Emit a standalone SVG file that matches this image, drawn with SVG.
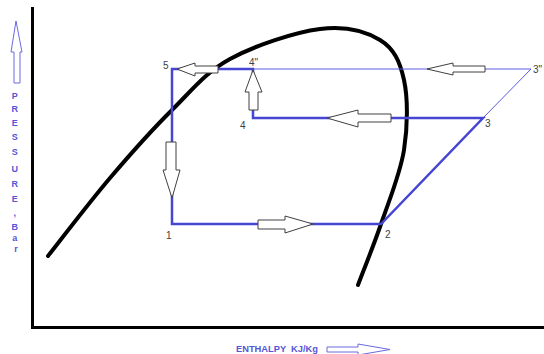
<svg xmlns="http://www.w3.org/2000/svg" width="544" height="354" viewBox="0 0 544 354">
<style>
.ax{stroke:#000;stroke-width:3;fill:none}
.sat{stroke:#000;stroke-width:4;fill:none;stroke-linecap:round;stroke-linejoin:round}
.cyc{stroke:#4646d2;stroke-width:2.5;fill:none;stroke-linecap:square}
.thin{stroke:#5a5ae0;stroke-width:1;fill:none}
.harrow{fill:#fff;stroke:#404040;stroke-width:1}
.lbl{font-family:"Liberation Sans",Arial,sans-serif;font-size:10px;fill:#404040}
.axl{font-family:"Liberation Sans",Arial,sans-serif;font-size:9px;font-weight:bold;fill:#5555d5}
.barrow{fill:#fff;stroke:#6a6ae0;stroke-width:1}
</style>
<rect width="544" height="354" fill="#fff"/>
<g id="axes">
<line class="ax" x1="32.5" y1="7" x2="32.5" y2="329"/>
<line class="ax" x1="31" y1="327.5" x2="544" y2="327.5"/>
</g>
<g id="saturation-curve">
<path class="sat" d="M48,256 C58.3,243 89.3,202.3 110,178 C130.7,153.7 152,129.8 172,110 C192,90.2 205.3,72.5 230,59 C254.7,45.5 295,32.2 320,29 C345,25.8 366,31.5 380,40 C394,48.5 400,61.7 404,80 C408,98.3 407.8,126 404,150 C400.2,174 388.7,201.5 381,224 C373.3,246.5 361.8,274.8 358,285"/>
</g>
<g id="connectors">
<line class="thin" x1="253" y1="69" x2="531" y2="69"/>
<line class="thin" x1="531" y1="69" x2="483" y2="118"/>
<polyline class="cyc" points="253,69 172,69 172,224 381,224 483,118 253,118 253,69"/>
</g>
<g id="arrows">
<polygon class="harrow" points="177,69 195,63 195,66 218,66 218,73 195,73 195,76"/>
<polygon class="harrow" points="253,70 245,92 249,92 249,110 258,110 258,92 262,92"/>
<polygon class="harrow" points="427,69 453,63 453,66 485,66 485,72 453,72 453,75"/>
<polygon class="harrow" points="327,118 358,110 358,114 391,114 391,122 358,122 358,127"/>
<polygon class="harrow" points="172,198 163,170 166,170 166,142 176,142 176,170 180,170"/>
<polygon class="harrow" points="313,224 285,216 285,220 258,220 258,229 285,229 285,233"/>
</g>
<g id="node-5"><text class="lbl" x="163" y="69">5</text></g>
<g id="node-4pp"><text class="lbl" x="249" y="66">4"</text></g>
<g id="node-4"><text class="lbl" x="240" y="129">4</text></g>
<g id="node-3pp"><text class="lbl" x="533" y="73">3"</text></g>
<g id="node-3"><text class="lbl" x="485" y="127">3</text></g>
<g id="node-1"><text class="lbl" x="166" y="239">1</text></g>
<g id="node-2"><text class="lbl" x="385" y="238">2</text></g>
<g id="y-axis-label">
<polygon class="barrow" points="16,21 11,52 14,52 14,83 20,83 20,52 22,52"/>
<text class="axl" text-anchor="middle">
<tspan x="16" y="99">P</tspan>
<tspan x="16" y="112">R</tspan>
<tspan x="16" y="126">E</tspan>
<tspan x="16" y="140">S</tspan>
<tspan x="16" y="155">S</tspan>
<tspan x="16" y="172">U</tspan>
<tspan x="16" y="187">R</tspan>
<tspan x="16" y="202">E</tspan>
<tspan x="16" y="216">,</tspan>
<tspan x="16" y="230">B</tspan>
<tspan x="16" y="241">a</tspan>
<tspan x="16" y="252">r</tspan>
</text>
</g>
<g id="x-axis-label">
<text class="axl" x="236" y="352" xml:space="preserve" style="font-size:9.3px">ENTHALPY  KJ/Kg</text>
<polygon class="barrow" points="390,349.5 358,344 358,347 327,347 327,352 358,352 358,355"/>
</g>
</svg>
